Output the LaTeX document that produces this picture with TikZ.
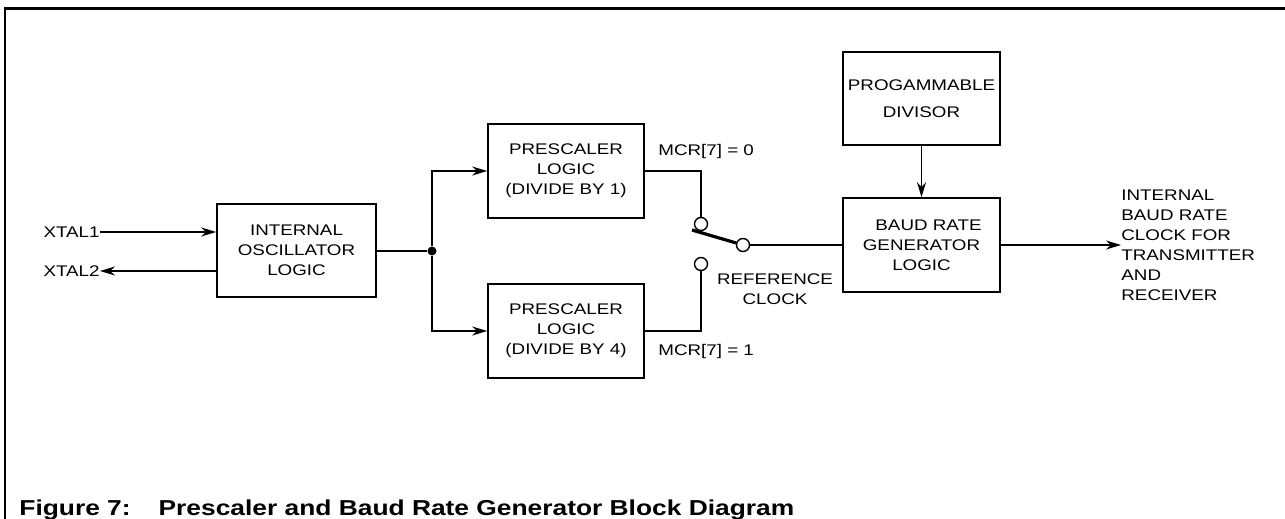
\documentclass[tikz,border=0pt]{standalone}
\usepackage{fontspec}
\setmainfont[FakeStretch=1.22]{Liberation Sans}
\usepackage{tikz}
\usetikzlibrary{arrows.meta, positioning, calc}

\begin{document}
\begin{tikzpicture}[
    x=0.5pt, y=-0.5pt,
    every node/.style={font=\fontsize{7.7}{10}\selectfont},
    box/.style={draw, line width=0.8pt, inner sep=0pt, align=center},
    lbl/.style={inner sep=0pt, align=left},
    arr/.style={-{Stealth[length=7.5pt, width=4.5pt]}, line width=0.7pt},
    wire/.style={line width=0.7pt},
    contact/.style={draw, circle, fill=white, line width=0.7pt, minimum size=6.5pt, inner sep=0pt},
    arm/.style={line width=1.6pt}
]
\useasboundingbox (0,0) rectangle (1285,519);
% frame
\draw[line width=1.3pt] (1285,8.7) -- (5,8.7) -- (5,519);

% blocks
\node[box, minimum width=79.5pt, minimum height=46.5pt] (osc) at (296.5,250.5) {INTERNAL\\OSCILLATOR\\LOGIC};
\node[box, minimum width=78pt, minimum height=47pt] (pre1) at (566,171) {PRESCALER\\LOGIC\\(DIVIDE BY 1)};
\node[box, minimum width=78pt, minimum height=47pt] (pre4) at (566,331) {PRESCALER\\LOGIC\\(DIVIDE BY 4)};
\node[box, minimum width=78.5pt, minimum height=46.5pt] (div) at (921.5,98.5) {PROGAMMABLE\\[3.5pt]DIVISOR};
\node[box, minimum width=78.5pt, minimum height=47pt] (brg) at (921.5,245) {\hspace{7pt}BAUD RATE\\GENERATOR\\LOGIC};

% pins and labels
\node[lbl, anchor=east] (xtal1) at (100,232) {XTAL1};
\node[lbl, anchor=east] (xtal2) at (100,271) {XTAL2};
\node[lbl, anchor=west] (mcr0) at (658,152) {MCR[7] = 0};
\node[lbl, anchor=west] (mcr1) at (658,352) {MCR[7] = 1};
\node[lbl, align=center] (refclk) at (775,289) {REFERENCE\\CLOCK};
\node[lbl, anchor=west] (out) at (1121,245) {INTERNAL\\BAUD RATE\\CLOCK FOR\\TRANSMITTER\\AND\\RECEIVER};

% switch
\node[circle, fill, inner sep=0pt, minimum size=4.5pt] (dot) at (432,251) {};
\node[contact] (c0) at (701,224) {};
\node[contact] (c1) at (701,264) {};
\node[contact] (com) at (743,245) {};
\coordinate (pivot) at (692,230);

% connections
\draw[arr] (xtal1.east) -- (xtal1.east -| osc.west);
\draw[arr] (osc.west |- xtal2.east) -- (xtal2.east);
\draw[wire] (osc.east |- dot) -- (dot);
\draw[arr] (dot) |- (pre1.west);
\draw[arr] (dot) |- (pre4.west);
\draw[wire] (pre1.east) -| (c0.north);
\draw[wire] (pre4.east) -| (c1.south);
\draw[arm] (pivot) -- (com);
\draw[wire] (com) -- (brg.west);
\draw[arr] (div) -- (brg);
\draw[arr] (brg.east) -- (out.west);

% caption
\node[anchor=base west, inner sep=0pt, font=\fontsize{10.8}{12}\selectfont\bfseries] (caption) at (19,515)
    {Figure 7:\hspace{14pt}Prescaler and Baud Rate Generator Block Diagram};
\end{tikzpicture}
\end{document}
